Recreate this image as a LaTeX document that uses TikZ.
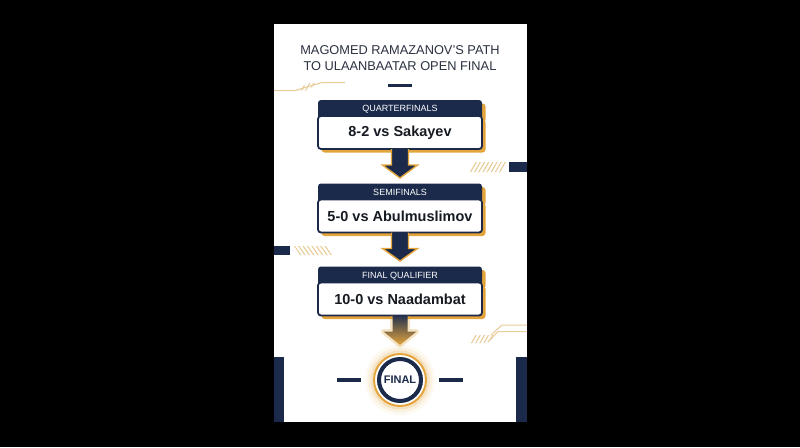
\documentclass[tikz,border=0pt]{standalone}
\usepackage{fontspec}
\setmainfont{Liberation Sans}
\usepackage{xcolor}
\usepackage{tikz}
\usetikzlibrary{positioning, shadows, patterns.meta}

\definecolor{navy}{HTML}{1B2A4A}
\definecolor{gold}{HTML}{E3A43B}
\definecolor{lightgold}{HTML}{E8CC98}
\definecolor{titlegray}{HTML}{2B3140}
\definecolor{textblack}{HTML}{161A22}

\tikzset{
  stagehead/.style={fill=navy, text=white, rounded corners=3pt, minimum width=164pt, minimum height=19pt,
    inner sep=0pt, outer sep=0pt, text depth=2pt, font=\fontsize{9}{10}\selectfont,
    drop shadow={shadow xshift=3.5pt, shadow yshift=-3.5pt, fill=gold, opacity=1}},
  stagebody/.style={draw=navy, line width=1.8pt, fill=white, rounded corners=3pt, minimum width=164pt,
    minimum height=33pt, inner sep=0pt, outer sep=0pt, text=textblack, font=\bfseries\fontsize{14.5}{16}\selectfont,
    drop shadow={shadow xshift=3.5pt, shadow yshift=-3.5pt, fill=gold, opacity=1}},
  stagearrow/.style={fill=navy, draw=gold, line width=1.4pt, line join=miter},
  finalarrow/.style={top color=navy!90!gray, middle color=gold!75!navy, bottom color=gold,
    preaction={draw=gold, opacity=0.3, line width=5pt, line join=round}},
  finalnode/.style={circle, draw=navy, line width=4pt, fill=white, minimum size=42pt, inner sep=0pt,
    outer sep=0pt, text=navy, font=\bfseries\fontsize{11}{12}\selectfont},
  sidedash/.style={fill=navy, minimum width=24pt, minimum height=4pt, inner sep=0pt, outer sep=0pt},
  hatch/.style={pattern={Lines[angle=#1, distance=3.6pt, line width=1.1pt]}, pattern color=lightgold},
  deco/.style={lightgold, line width=1pt},
}

\begin{document}
\begin{tikzpicture}[x=1pt, y=-1pt]
    % page and card
    \fill[black] (0,0) rectangle (800,447);
    \fill[white] (274,24) rectangle (527,422);

    % side ornaments
    \draw[deco] (274,90.5) -- (295,90.5) -- (322,82.5) -- (345,82.5);
    \fill[hatch=60] (297,90.5) -- (307,90.5) -- (318,83) -- (308,83) -- cycle;
    \fill[hatch=60] (468,172) -- (501,172) -- (507,162) -- (474,162) -- cycle;
    \fill[navy] (509,162) rectangle (527,172);
    \fill[navy] (274,246) rectangle (290,255);
    \fill[hatch=-55] (294,246) -- (326,246) -- (332,255) -- (300,255) -- cycle;
    \draw[deco] (491,335) -- (502,325) -- (527,325);
    \draw[deco] (488,342) -- (498,331.5) -- (527,331.5);
    \fill[hatch=60] (468,343) -- (487,343) -- (494,335) -- (475,335) -- cycle;
    \fill[navy] (274,357) rectangle (284,422);
    \fill[navy] (516,357) rectangle (527,422);

    % title
    \node[align=center, inner sep=0pt, text=titlegray, font=\fontsize{12.8}{16.5}\selectfont] (title) at (400,58)
        {MAGOMED RAMAZANOV’S PATH\\TO ULAANBAATAR OPEN FINAL};
    \node[fill=navy, minimum width=24pt, minimum height=3.5pt, inner sep=0pt, below=12.5pt of title] (titlebar) {};

    % stages
    \node[stagehead, anchor=north] (qfhead) at (400,100) {QUARTERFINALS};
    \node[stagebody, below=-3pt of qfhead] (qf) {8-2 vs Sakayev};
    \node[stagehead, below=34.5pt of qf] (sfhead) {SEMIFINALS};
    \node[stagebody, below=-3pt of sfhead] (sf) {5-0 vs Abulmuslimov};
    \node[stagehead, below=34pt of sf] (fqhead) {FINAL QUALIFIER};
    \node[stagebody, below=-3pt of fqhead] (fq) {10-0 vs Naadambat};

    % final
    \node[finalnode, below=43.5pt of fq] (final) {FINAL};
    \draw[gold, line width=2pt] (final.center) circle (26pt);
    \draw[gold, opacity=0.3, line width=2.5pt] (final.center) circle (28.2pt);
    \draw[gold, opacity=0.15, line width=3pt] (final.center) circle (30.8pt);
    \draw[gold, opacity=0.06, line width=3pt] (final.center) circle (33.8pt);
    \node[sidedash, left=18pt of final] (leftdash) {};
    \node[sidedash, right=18pt of final] (rightdash) {};

    % arrows
    \draw[stagearrow] ([xshift=-8.5pt]qf.south) -- ([xshift=-8.5pt, yshift=-16pt]qf.south)
        -- ([xshift=-17.5pt, yshift=-16pt]qf.south) -- ([yshift=5.5pt]sfhead.north)
        -- ([xshift=17.5pt, yshift=-16pt]qf.south) -- ([xshift=8.5pt, yshift=-16pt]qf.south) -- ([xshift=8.5pt]qf.south);
    \draw[stagearrow] ([xshift=-8.5pt]sf.south) -- ([xshift=-8.5pt, yshift=-16pt]sf.south)
        -- ([xshift=-17.5pt, yshift=-16pt]sf.south) -- ([yshift=5.5pt]fqhead.north)
        -- ([xshift=17.5pt, yshift=-16pt]sf.south) -- ([xshift=8.5pt, yshift=-16pt]sf.south) -- ([xshift=8.5pt]sf.south);
    \shade[finalarrow] ([xshift=-7.5pt]fq.south) -- ([xshift=-7.5pt, yshift=-16pt]fq.south)
        -- ([xshift=-16.5pt, yshift=-16pt]fq.south) -- ([yshift=14pt]final.north)
        -- ([xshift=16.5pt, yshift=-16pt]fq.south) -- ([xshift=7.5pt, yshift=-16pt]fq.south) -- ([xshift=7.5pt]fq.south);
\end{tikzpicture}
\end{document}
